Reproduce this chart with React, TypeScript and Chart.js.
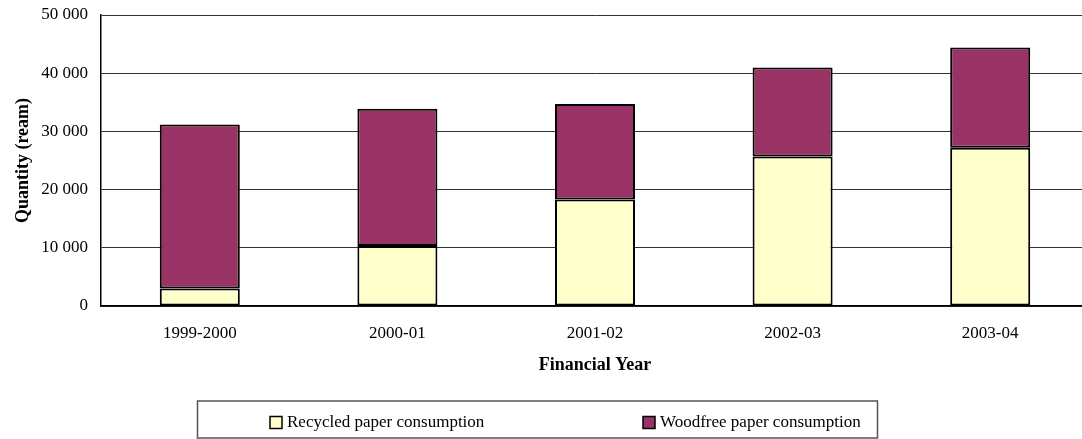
import React, { useEffect, useRef } from "react";
import { Chart, registerables } from "chart.js";

Chart.register(...registerables);

const categories = ["1999-2000", "2000-01", "2001-02", "2002-03", "2003-04"];
const recycled = [3000, 10300, 18300, 25700, 27200];
const woodfree = [28200, 23600, 16400, 15300, 17200];
const seriesNames = ["Recycled paper consumption", "Woodfree paper consumption"];
const seriesColors = ["#FFFFCC", "#993366"];
const yTitle = "Quantity (ream)";
const xTitle = "Financial Year";

const FONT = "'Liberation Serif', 'Times New Roman', serif";

const fmt = (v: number) => {
  if (v === 0) return "0";
  const s = String(Math.round(v));
  return s.replace(/\B(?=(\d{3})+(?!\d))/g, " ");
};

const legendBoxPlugin = {
  id: "legendBox",
  afterDraw(chart: any) {
    const ctx = chart.ctx;
    ctx.save();
    ctx.strokeStyle = "#555";
    ctx.lineWidth = 1.5;
    ctx.strokeRect(197.5, 401, 680, 37);
    const itemX = [270, 643];
    const cy = 423;
    ctx.font = `17px ${FONT}`;
    ctx.textBaseline = "middle";
    ctx.textAlign = "left";
    chart.data.datasets.forEach((ds: any, i: number) => {
      const x = itemX[i];
      ctx.fillStyle = ds.backgroundColor;
      ctx.fillRect(x, cy - 6.5, 12, 12);
      ctx.strokeStyle = "#000";
      ctx.lineWidth = 1.5;
      ctx.strokeRect(x, cy - 6.5, 12, 12);
      ctx.fillStyle = "#000";
      ctx.fillText(ds.label, x + 17, cy);
    });
    ctx.restore();
  },
};

export default function App() {
  const ref = useRef<HTMLCanvasElement | null>(null);
  useEffect(() => {
    if (!ref.current) return;
    Chart.defaults.font.family = FONT;
    Chart.defaults.color = "#000";
    const chart = new Chart(ref.current, {
      type: "bar",
      data: {
        labels: categories,
        datasets: [
          {
            label: seriesNames[0],
            data: recycled,
            backgroundColor: seriesColors[0],
            borderColor: "#000",
            borderWidth: 2,
            borderSkipped: false,
          },
          {
            label: seriesNames[1],
            data: woodfree,
            backgroundColor: seriesColors[1],
            borderColor: "#000",
            borderWidth: 2,
            borderSkipped: false,
          },
        ],
      },
      options: {
        animation: false,
        responsive: false,
        maintainAspectRatio: false,
        layout: { padding: { left: 0, right: 11, top: 15, bottom: 0 } },
        datasets: { bar: { barPercentage: 0.405, categoryPercentage: 1 } },
        plugins: {
          legend: { display: false },
          tooltip: { enabled: false },
        },
        scales: {
          x: {
            stacked: true,
            grid: { display: false, drawTicks: false },
            border: { display: true, color: "#000", width: 1.5 },
            ticks: { padding: 17, font: { size: 17 }, color: "#000" },
            title: {
              display: true,
              text: xTitle,
              font: { size: 18, weight: "bold" },
              color: "#000",
              padding: { top: 0, bottom: 63 },
            },
            afterFit: (s: any) => {
              s.height = 133;
            },
          },
          y: {
            stacked: true,
            min: 0,
            max: 50000,
            grid: { color: "#333", lineWidth: 1, drawTicks: false },
            border: { display: true, color: "#000", width: 1.5 },
            ticks: {
              stepSize: 10000,
              padding: 13,
              font: { size: 17 },
              color: "#000",
              callback: (v: any) => fmt(Number(v)),
            },
            title: {
              display: true,
              text: yTitle,
              font: { size: 18, weight: "bold" },
              color: "#000",
              padding: { top: 13, bottom: 0 },
            },
            afterFit: (s: any) => {
              s.width = 101;
              s.paddingTop = 0;
              s.paddingBottom = 0;
            },
          },
        },
      },
      plugins: [legendBoxPlugin],
    } as any);
    return () => chart.destroy();
  }, []);
  return (
    <div
      style={{
        position: "absolute",
        left: 0,
        top: 0,
        width: 1082,
        height: 439,
        overflow: "hidden",
        background: "#fff",
      }}
    >
      <canvas ref={ref} width={1100} height={439} style={{ display: "block" }} />
    </div>
  );
}
